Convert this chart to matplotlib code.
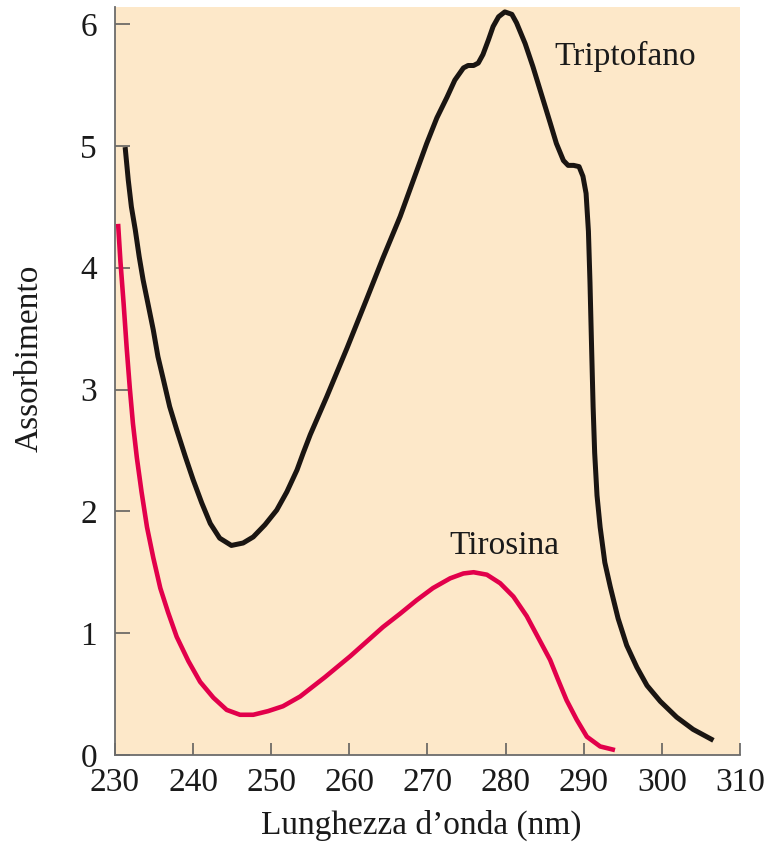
import matplotlib
matplotlib.use("Agg")
import matplotlib.pyplot as plt

# absorbance spectra (wavelength in nm)
trp_x = [231.3, 231.7, 232.1, 232.6, 233.1, 233.6, 234.3, 234.9, 235.5, 236.2,
         237.0, 237.9, 239.0, 240.0, 241.1, 242.2, 243.4, 244.9, 246.4, 247.7,
         249.2, 250.7, 252.0, 253.3, 254.1, 255.0, 257.1, 259.7, 262.2, 264.3,
         266.5, 268.2, 269.9, 271.2, 272.5, 273.5, 274.6, 275.2, 275.9, 276.5,
         277.1, 277.8, 278.4, 279.1, 279.9, 280.8, 281.4, 282.5, 283.5, 284.6,
         285.7, 286.5, 287.4, 288.0, 288.7, 289.4, 289.9, 290.3, 290.6, 290.8,
         291.0, 291.2, 291.4, 291.7, 292.1, 292.7, 293.4, 294.4, 295.5, 296.8,
         298.1, 299.8, 301.9, 304.0, 306.6]
trp_y = [4.99, 4.72, 4.50, 4.31, 4.09, 3.90, 3.68, 3.49, 3.27, 3.08,
         2.86, 2.67, 2.45, 2.26, 2.07, 1.90, 1.78, 1.72, 1.74, 1.79,
         1.89, 2.01, 2.16, 2.34, 2.48, 2.63, 2.94, 3.34, 3.74, 4.08,
         4.42, 4.72, 5.02, 5.23, 5.40, 5.54, 5.64, 5.66, 5.66, 5.68,
         5.75, 5.87, 5.98, 6.06, 6.10, 6.08, 6.01, 5.84, 5.65, 5.42,
         5.19, 5.02, 4.88, 4.84, 4.84, 4.83, 4.75, 4.61, 4.30, 3.88,
         3.36, 2.86, 2.48, 2.13, 1.87, 1.58, 1.38, 1.12, 0.90, 0.72,
         0.57, 0.44, 0.31, 0.21, 0.12]

tyr_x = [230.4, 230.7, 231.1, 231.5, 231.9, 232.3, 232.8, 233.4, 234.1, 234.9,
         235.8, 236.8, 237.9, 239.4, 240.9, 242.6, 244.3, 246.0, 247.7, 249.6,
         251.5, 253.7, 256.9, 260.1, 262.2, 264.3, 266.5, 268.6, 270.7, 272.9,
         274.6, 275.9, 277.6, 279.3, 281.0, 282.7, 284.2, 285.7, 286.7, 287.8,
         289.1, 290.4, 292.1, 294.0]
tyr_y = [4.36, 4.05, 3.71, 3.34, 3.01, 2.72, 2.44, 2.16, 1.87, 1.62,
         1.37, 1.17, 0.97, 0.77, 0.60, 0.47, 0.37, 0.33, 0.33, 0.36,
         0.40, 0.48, 0.64, 0.81, 0.93, 1.05, 1.16, 1.27, 1.37, 1.45,
         1.49, 1.50, 1.48, 1.41, 1.30, 1.14, 0.96, 0.78, 0.62, 0.45,
         0.29, 0.15, 0.07, 0.04]

x_ticks = [230, 240, 250, 260, 270, 280, 290, 300, 310]
y_ticks = [0, 1, 2, 3, 4, 5, 6]

plt.rcParams['font.family'] = ['Liberation Serif', 'DejaVu Serif']

fig = plt.figure(figsize=(7.65, 8.46), dpi=100)
ax = fig.add_axes([0.1503, 0.1076, 0.8170, 0.8841])
ax.set_facecolor('#fde8c9')

ax.plot(trp_x, trp_y, color='#1a1512', lw=3.6, solid_capstyle='butt', solid_joinstyle='round')
ax.plot(tyr_x, tyr_y, color='#e2004b', lw=3.3, solid_capstyle='butt', solid_joinstyle='round')

ax.set_xlim(230, 310)
ax.set_ylim(0, 6.14)
ax.set_xticks(x_ticks)
ax.set_yticks(y_ticks)

for s in ['top', 'right']:
    ax.spines[s].set_visible(False)
for s in ['left', 'bottom']:
    ax.spines[s].set_color('#6b6b6b')
    ax.spines[s].set_linewidth(1.3)

ax.tick_params(axis='x', direction='in', length=8.5, width=1.1, color='#555555',
               labelsize=24, pad=9, labelcolor='#1a1a1a')
ax.tick_params(axis='y', direction='in', length=11, width=1.1, color='#555555',
               labelsize=24, pad=13, labelcolor='#1a1a1a')

ax.set_xlabel('Lunghezza d’onda (nm)', fontsize=24, color='#1a1a1a')
ax.set_ylabel('Assorbimento', fontsize=24, color='#1a1a1a')
ax.xaxis.set_label_coords(0.49, -0.073)
ax.yaxis.set_label_coords(-0.112, 0.53)

ax.text(286.3, 5.66, 'Triptofano', fontsize=24, ha='left', va='baseline', color='#1a1a1a')
ax.text(272.8, 1.65, 'Tirosina', fontsize=24, ha='left', va='baseline', color='#1a1a1a')

fig.savefig('out.png', dpi=100)
